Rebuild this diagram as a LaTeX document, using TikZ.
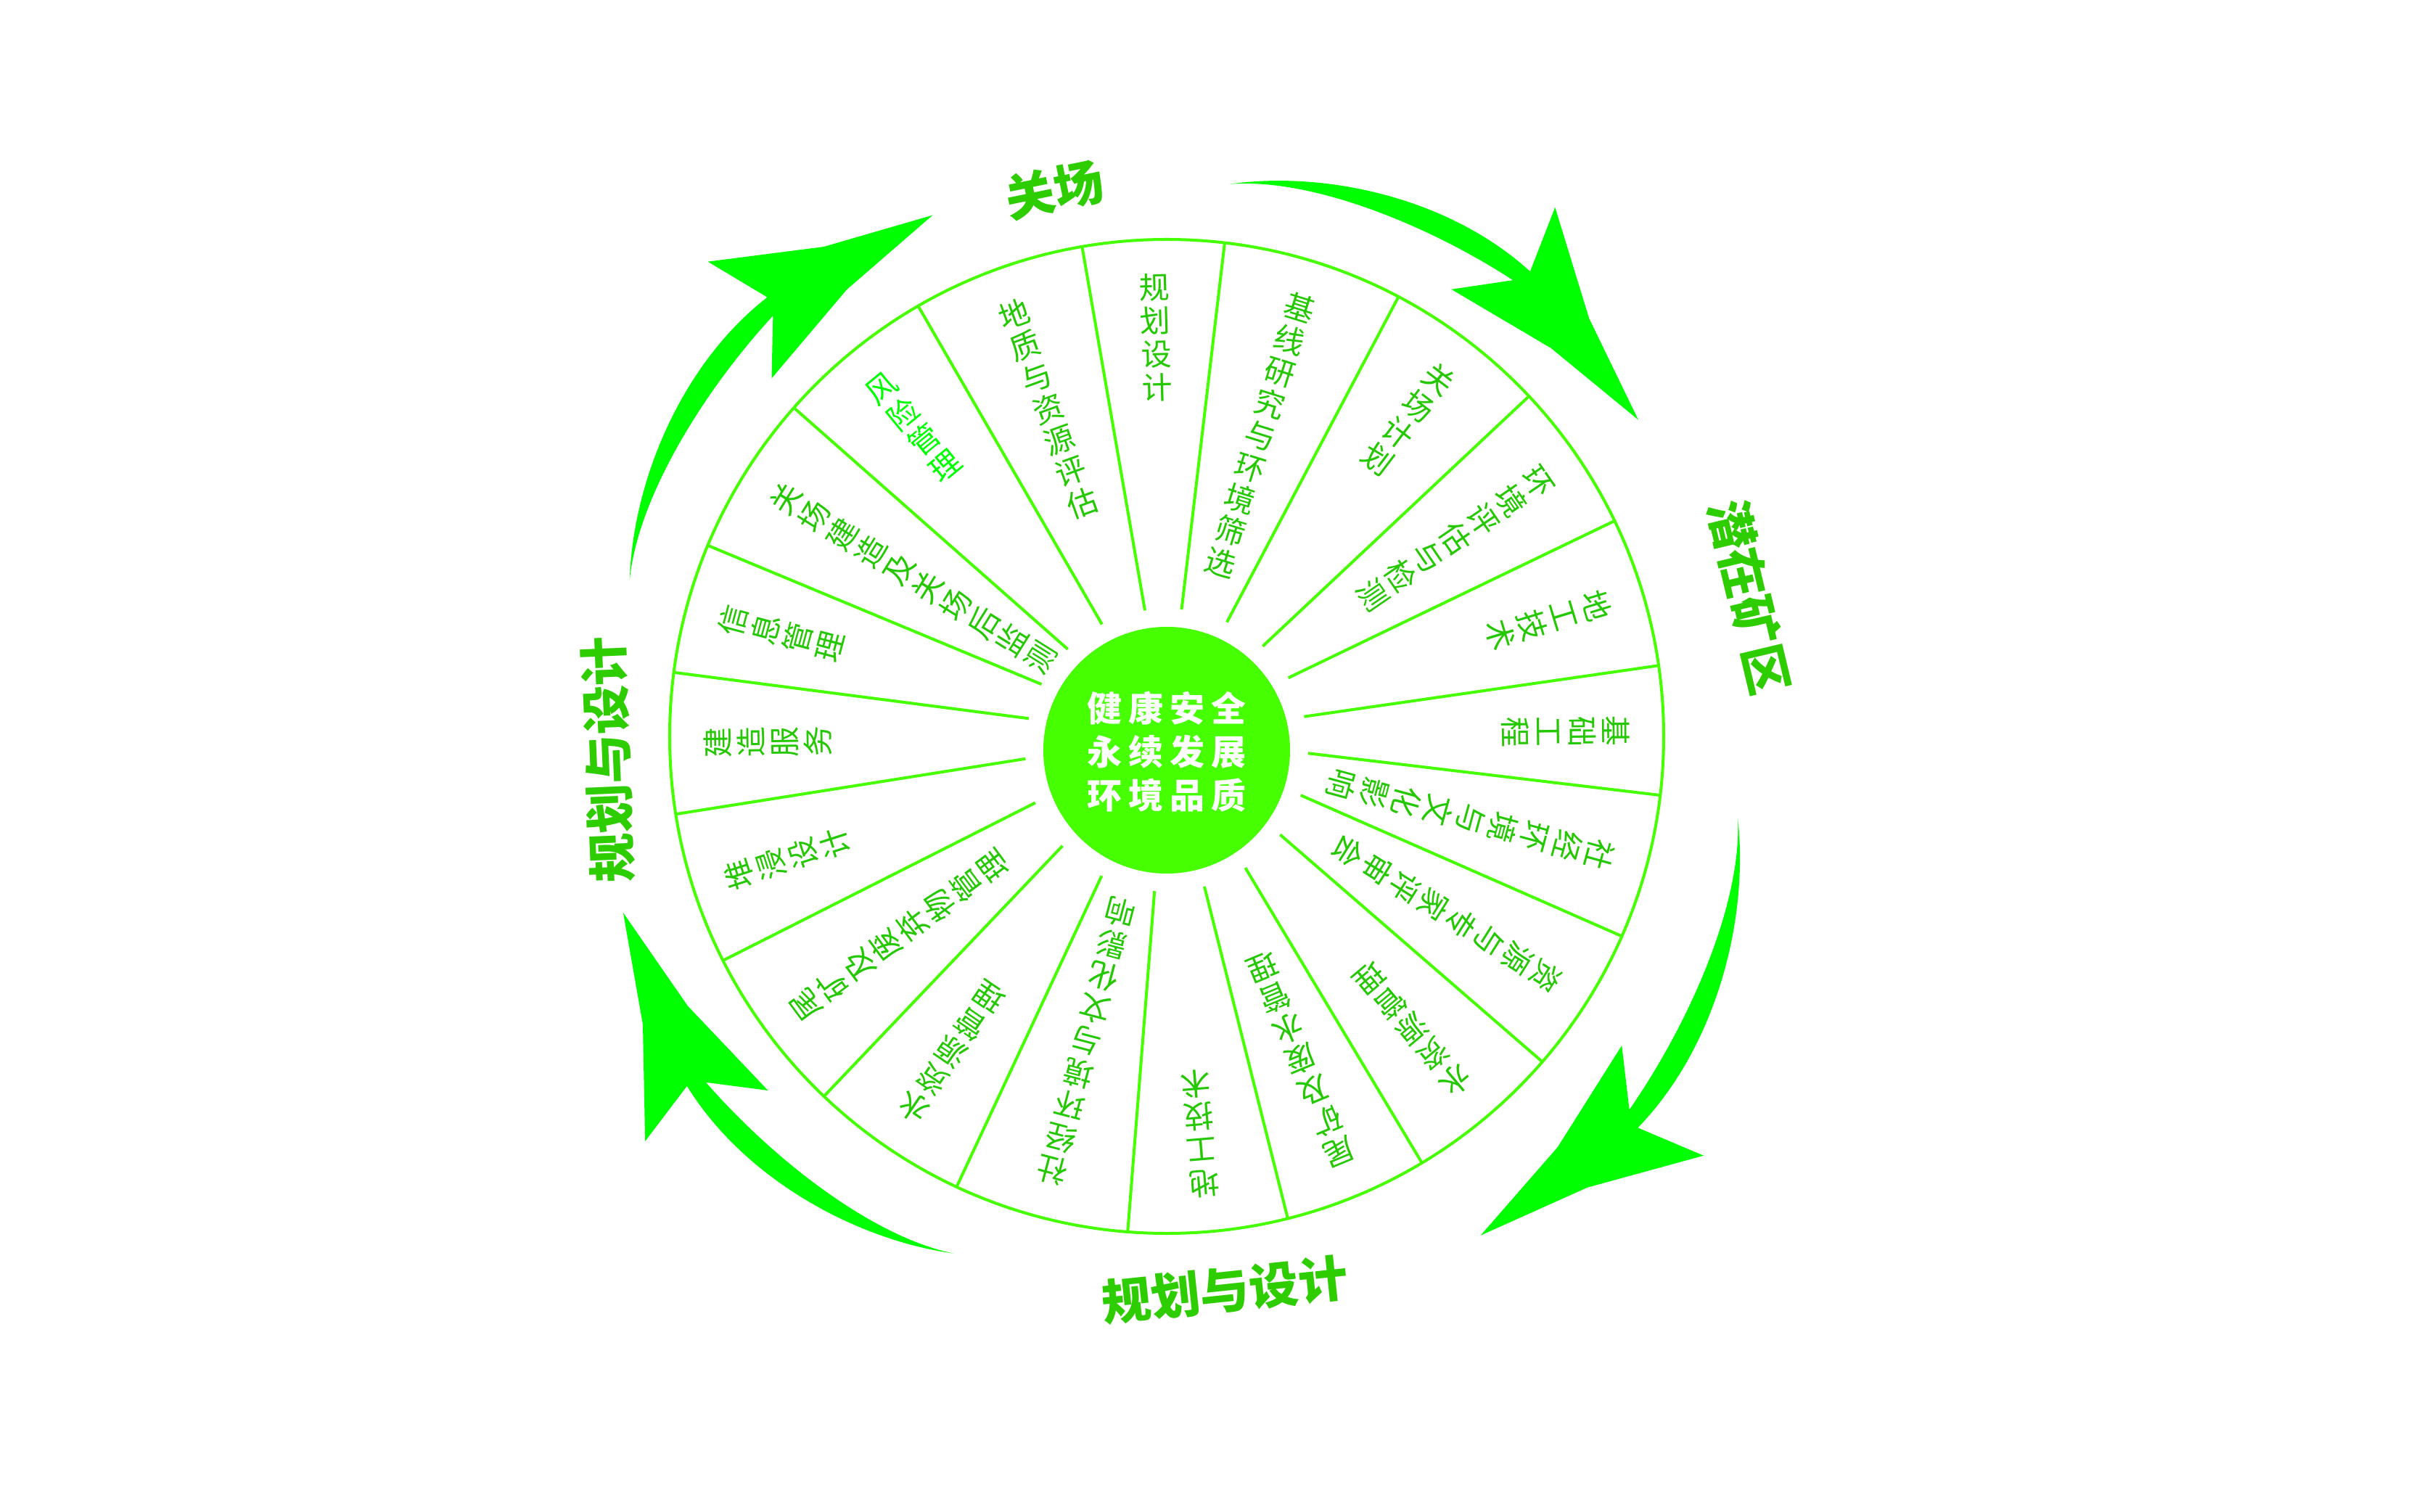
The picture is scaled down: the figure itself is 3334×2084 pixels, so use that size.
\documentclass[tikz,border=0pt]{standalone}
\usepackage{fontspec}
\setmainfont{Noto Sans CJK SC}
\XeTeXlinebreaklocale "zh"
\XeTeXlinebreakskip = 0pt plus 1pt
\usepackage{xcolor}
\definecolor{linegreen}{RGB}{70,255,0}
\definecolor{textgreen}{RGB}{35,200,0}
\definecolor{brightgreen}{RGB}{0,255,0}
\definecolor{titlegreen}{RGB}{45,205,0}
\tikzset{spoke line/.style={draw=linegreen,line width=4pt},}
\tikzset{sector text/.style={font=\fontsize{42}{46}\selectfont,text width=50pt,align=center,inner sep=0pt,anchor=north},}
\tikzset{title text/.style={text=titlegreen,font=\fontsize{68}{68}\selectfont\bfseries,inner sep=0pt},}
\tikzset{hub text/.style={text=white,font=\fontsize{48}{60}\selectfont\bfseries,align=center,inner sep=0pt},}
\newcommand{\cyclearrow}[2]{%
  \fill[brightgreen,rotate=#1,scale=#2] (86.6,761.3) .. controls (220,780) and (390,742) .. (500.9,640.8)
    -- (535.3,729.2) -- (582.2,576.1) -- (650,436.3) -- (529.9,535) -- (392.4,616.2) -- (477.3,628.8)
    .. controls (360,705) and (200,770) .. (86.6,761.3) -- cycle;}

\begin{document}
\begin{tikzpicture}[x=1pt,y=1pt]
       \fill[white] (-1608,-1069) rectangle (1726,1015);
       \useasboundingbox (-1608,-1069) rectangle (1726,1015);
       \coordinate (O) at (0,0);
       \coordinate (H) at (0,-19);

       % wheel
       \draw[spoke line] (O) circle (685);
       \foreach \a in {120,99.8,83.3,62.2,43.2,25.7,8.2,-6.8,-23.7,-40.9,-59.1,-75.9,-94.5,-115,-133.6,-153.2,-171,172.6,157.4,138.6}{
         \pgfmathsetmacro\rin{195*(sqrt(1-0.0094937*cos(\a)^2)-0.097436*sin(\a))}
         \draw[spoke line] (\a:\rin) -- (\a:685);
       }
       \fill[linegreen] (H) circle (170);
       \node[hub text] (hub) at (0,-21) {健\kern9pt 康\kern9pt 安\kern9pt 全\\永\kern9pt 续\kern9pt 发\kern9pt 展\\环\kern9pt 境\kern9pt 品\kern9pt 质};

       % sector labels
       \foreach \a/\txt/\col [count=\i] in {91.55/规划设计/textgreen, 72.75/基线研究与环境筛选/textgreen,
           52.7/关场计划/textgreen, 34.45/环境评估与检测/textgreen, 16.95/地工技术/textgreen,
           0.7/基础工程/textgreen, -15.25/社经环境与文化影响/textgreen, -32.3/资源与专家评审会/textgreen,
           -50/水资源管理/textgreen, -67.5/尾矿及废水管理/textgreen, -85.2/地工技术/textgreen,
           -104.75/社经环境与文化影响/textgreen, -124.3/水资源管理/textgreen, -143.4/尾矿及废弃物管理/textgreen,
           -162.1/堆浸设计/textgreen, 180.8/建造服务/textgreen, 165/信息管理/textgreen,
           148/关场建造及关场后监测/textgreen, 129.3/风险管理/brightgreen, 109.9/地质与资源评估/textgreen}{
         \node[sector text,text=\col,rotate=\a-90] (sec\i) at (\a:638) {\txt};
       }

       % cycle arrows
       \cyclearrow{0}{1}
       \cyclearrow{-91.7}{1.038}
       \cyclearrow{-195.9}{1.006}
       \cyclearrow{80.3}{1.006}

       \node[title text,rotate=11.6] (close) at (-155,754) {关场};
       \node[title text,rotate=-76.6] (mine) at (803,192) {潜在矿区};
       \node[title text,rotate=6] (plan) at (80,-763) {规划与设计};
       \node[title text,rotate=92.4] (plan left) at (-770,-32) {规划与设计};
\end{tikzpicture}
\end{document}
